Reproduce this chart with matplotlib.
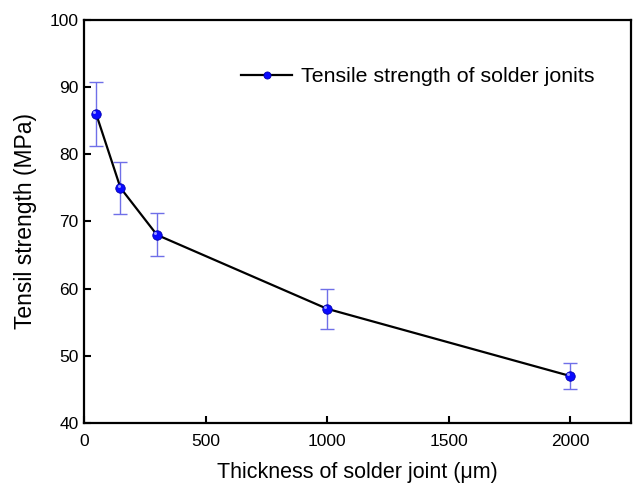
import matplotlib
matplotlib.use('Agg')
import matplotlib.pyplot as plt
import matplotlib.transforms as mtransforms

plt.rcParams['font.family'] = ['Liberation Sans', 'DejaVu Sans']

# Joint thickness (um) vs tensile strength (MPa)
thickness = [50, 150, 300, 1000, 2000]
strength = [86, 75, 68, 57, 47]
strength_err = [4.8, 3.9, 3.2, 3.0, 2.0]

fig = plt.figure(figsize=(6.33, 4.84), dpi=100)
fig.patch.set_facecolor('white')
ax = fig.add_axes([0.1327, 0.126, 0.864, 0.833])

ax.errorbar(thickness, strength, yerr=strength_err, fmt='none',
            ecolor='#6f6fe8', elinewidth=1.0, capsize=5, capthick=1.0, zorder=2)
ax.plot(thickness, strength, color='black', linewidth=1.6, marker='o',
        markersize=6.8, markerfacecolor='#0a0aff', markeredgecolor='#0000b0',
        markeredgewidth=0.6, label='Tensile strength of solder jonits', zorder=3)

# small glossy highlight on each ball marker
shine = mtransforms.offset_copy(ax.transData, fig=fig, x=-1.3, y=1.3, units='points')
ax.plot(thickness, strength, linestyle='none', marker='o', markersize=2.2,
        markerfacecolor='#9a9aff', markeredgewidth=0, transform=shine, zorder=4)

ax.set_xlim(0, 2250)
ax.set_ylim(40, 100)
ax.set_xticks([0, 500, 1000, 1500, 2000])
ax.set_yticks([40, 50, 60, 70, 80, 90, 100])
ax.tick_params(direction='in', length=5, width=1.5, labelsize=12.5, pad=4)
ax.tick_params(axis='x', pad=8)
for side in ['left', 'bottom', 'top', 'right']:
    ax.spines[side].set_linewidth(1.6)

ax.set_xlabel('Thickness of solder joint (\u03bcm)', fontsize=15.5, labelpad=9)
ax.set_ylabel('Tensil strength (MPa)', fontsize=16.5, labelpad=9)

ax.legend(loc='upper left', bbox_to_anchor=(0.252, 0.93), frameon=False,
          fontsize=15.4, handlelength=2.4, handletextpad=0.4, markerscale=0.75)

fig.savefig('out.png', dpi=100, facecolor='white')
